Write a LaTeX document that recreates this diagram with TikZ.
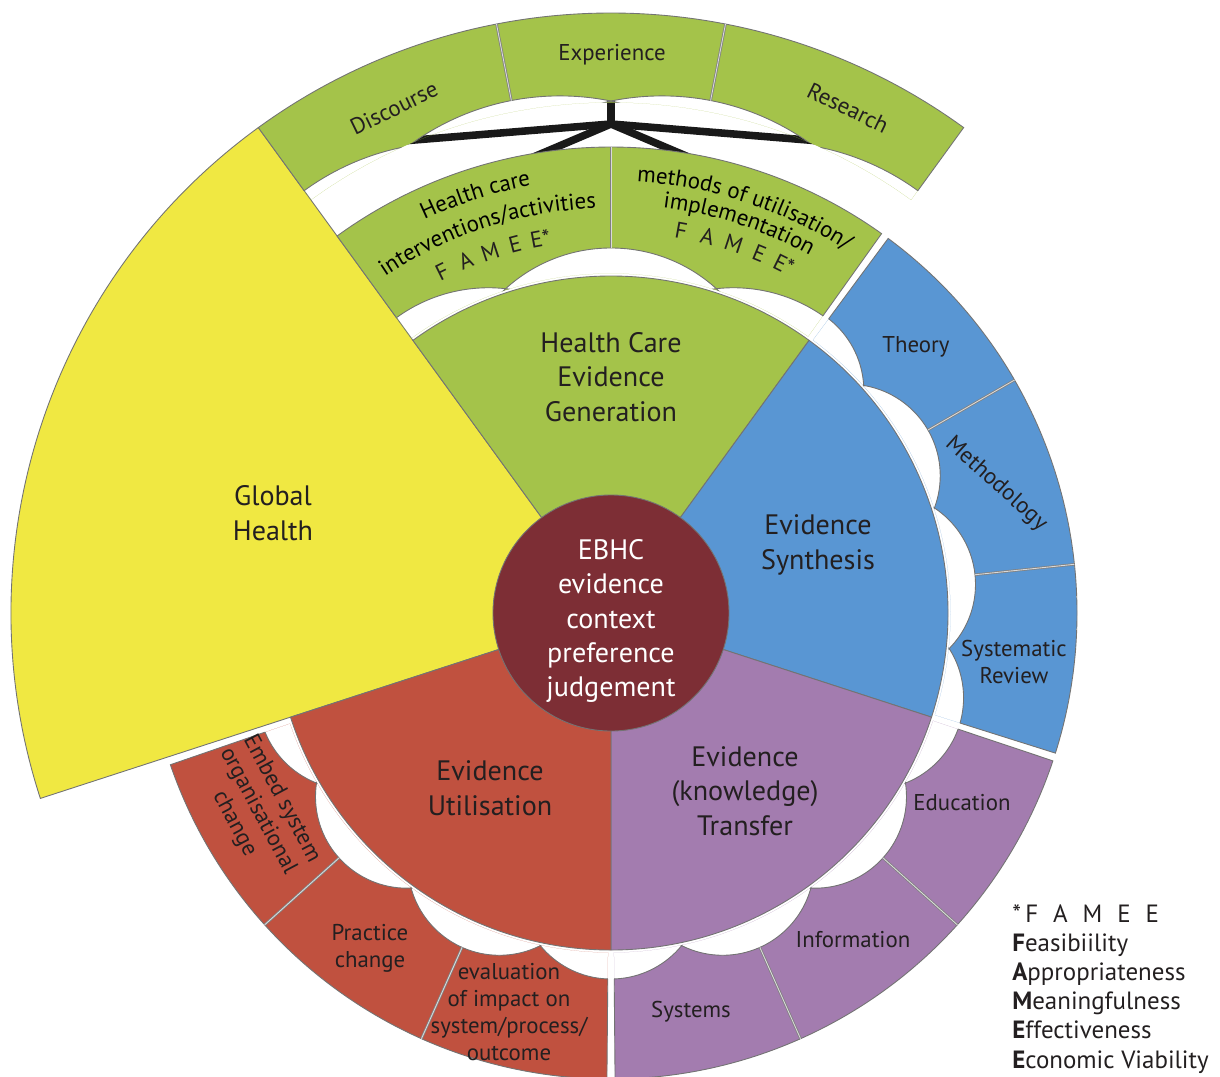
\documentclass[tikz,border=0pt]{standalone}
\usepackage{fontspec}
\setmainfont{PT Sans}
\usetikzlibrary{decorations.text}
\definecolor{globalcol}{HTML}{F0E842}
\definecolor{gencol}{HTML}{A4C34A}
\definecolor{syncol}{HTML}{5996D3}
\definecolor{transcol}{HTML}{A37CAF}
\definecolor{utilcol}{HTML}{C0513F}
\definecolor{corecol}{HTML}{7D2E35}
\definecolor{inkcol}{HTML}{231F20}
\newcommand\biglbl{\fontsize{16}{19.6}\selectfont}
\newcommand\smalllbl{\fontsize{13}{15.2}\selectfont}
\newcommand\keylbl{\fontsize{14.2}{16.7}\selectfont}
\newcommand\wedgering[4]{(#1:#3) arc[start angle=#1,end angle=#2,radius=#3] -- (#2:#4) arc[start angle=#2,end angle=#1,radius=#4] -- cycle}
% colour, from, to, inner, outer, bubble angles, bubble distance, bubble radius
\newcommand\scalloped[8]{%
  \begin{scope}
    \clip \wedgering{#2}{#3}{#4}{#5};
    \fill[#1, even odd rule] \wedgering{#2}{#3}{#4}{#5} \foreach \b in {#6} {(\b:#7) circle[radius=#8]};
    \foreach \b in {#6} \draw[bubble] (\b:#7) circle[radius=#8];
  \end{scope}}
\tikzset{sector/.style={draw=black!55, line width=0.5pt},
  rim/.style={draw=black!55, line width=0.5pt},
  divider/.style={draw=black!50, double=black!15, double distance=0.5pt, line width=0.45pt},
  bubble/.style={draw=black!55, line width=0.5pt},
  link/.style={draw=black!90, line width=4.3pt, line join=round},
  big/.style={align=center, font=\biglbl, text=inkcol},
  small/.style={align=center, font=\smalllbl, text=inkcol},
  keyline/.style={font=\keylbl, text=inkcol, anchor=base west, inner sep=0pt}
}

\begin{document}
\begin{tikzpicture}[x=0.02cm, y=0.02cm]
\useasboundingbox (-611,-463) rectangle (609,613);

\filldraw[sector, fill=globalcol] (0,0) -- (126:600) arc[start angle=126,end angle=198,radius=600] -- cycle;

\coordinate (hub) at (90:489);
\coordinate (expe) at (90:514);
\coordinate (disc) at (113.5:515);
\coordinate (rese) at (66.5:515);
\coordinate (inter) at (100.5:461);
\coordinate (meth) at (79.5:461);
\draw[link] (expe) -- (hub);
\draw[link] (disc) -- (hub) -- (rese);
\draw[link] (inter) -- (hub) -- (meth);

% outer ring above generation
\scalloped{gencol}{54}{126}{510.5}{600}{54,79,101,126}{267.6}{254.4}
\draw[rim] (126:522) -- (126:600) arc[start angle=126,end angle=54,radius=600] -- (54:522);
\foreach \d in {79,101} \draw[divider] (\d:522) -- (\d:600);

% second rings
\scalloped{gencol}{54.5}{126}{339.5}{466}{54,90,126}{208.2}{156.8}
\draw[rim] (126:365) -- (126:466) arc[start angle=126,end angle=54.5,radius=466] -- (54.5:365);
\draw[divider] (90:365) -- (90:466);

\scalloped{syncol}{-17.5}{53.5}{339.5}{466}{-18,6,30,54}{274.5}{91.5}
\draw[rim] (-17.5:366) -- (-17.5:466) arc[start angle=-17.5,end angle=53.5,radius=466] -- (53.5:366);
\foreach \d in {6,30} \draw[divider] (\d:366) -- (\d:466);

\scalloped{transcol}{-89.5}{-18.5}{339.5}{466}{-90,-66,-42,-18}{274.5}{91.5}
\draw[rim] (-89.5:366) -- (-89.5:466) arc[start angle=-89.5,end angle=-18.5,radius=466] -- (-18.5:366);
\foreach \d in {-66,-42} \draw[divider] (\d:366) -- (\d:466);

\scalloped{utilcol}{-161}{-90.5}{339.5}{466}{-162,-138,-114,-90}{274.5}{91.5}
\draw[rim] (-161:366) -- (-161:466) arc[start angle=-161,end angle=-90.5,radius=466] -- (-90.5:366);
\foreach \d in {-138,-114} \draw[divider] (\d:366) -- (\d:466);

% main sectors
\filldraw[sector, fill=gencol] (0,0) -- (54:337) arc[start angle=54,end angle=126,radius=337] -- cycle;
\filldraw[sector, fill=syncol] (0,0) -- (-18:337) arc[start angle=-18,end angle=54,radius=337] -- cycle;
\filldraw[sector, fill=transcol] (0,0) -- (-90:337) arc[start angle=-90,end angle=-18,radius=337] -- cycle;
\filldraw[sector, fill=utilcol] (0,0) -- (-162:337) arc[start angle=-162,end angle=-90,radius=337] -- cycle;
\filldraw[sector, fill=corecol] (0,0) circle[radius=118];

\node[big] (gen) at (0,236) {Health Care\\Evidence\\Generation};
\node[big] (glob) at (-338,100) {Global\\Health};
\node[big] (syn) at (207,68) {Evidence\\Synthesis};
\node[big] (tra) at (134,-178) {Evidence\\(knowledge)\\Transfer};
\node[big] (uti) at (-121,-175) {Evidence\\Utilisation};
\node[big, text=white] (ebhc) at (0,-8) {EBHC\\evidence\\context\\preference\\judgement};

\node[small, rotate=26] (discl) at (-217,505) {Discourse};
\node[small] (expel) at (1,558) {Experience};
\node[small, rotate=-26] (resel) at (237,505) {Research};

\path[decorate, decoration={text along path, text align=center, text={|\smalllbl|Health care}}] (130:435) arc[start angle=130,end angle=86,radius=435];
\path[decorate, decoration={text along path, text align=center, text={|\smalllbl|interventions/activities}}] (131:405) arc[start angle=131,end angle=85,radius=405];
\foreach \ch [count=\i] in {F,A,M,E,E*}
  \node[small, rotate={18.5+(3-\i)*3.9}] (fl\i) at ({108.5+(3-\i)*3.9}:381) {\ch};
\path[decorate, decoration={text along path, text align=center, text={|\smalllbl|methods of utilisation/}}] (95:432) arc[start angle=95,end angle=48.6,radius=432];
\path[decorate, decoration={text along path, text align=center, text={|\smalllbl|implementation}}] (95:409) arc[start angle=95,end angle=48.6,radius=409];
\foreach \ch [count=\i] in {F,A,M,E,E*}
  \node[small, rotate={-18.4+(3-\i)*4}] (fr\i) at ({71.6+(3-\i)*4}:389) {\ch};

\node[small] (theo) at (305,266) {Theory};
\node[small, rotate=-42] (meto) at (385,129) {Methodology};
\node[small] (sysr) at (403,-49) {Systematic\\Review};
\node[small] (educ) at (351,-190) {Education};
\node[small] (info) at (242,-327) {Information};
\node[small] (syst) at (80,-399) {Systems};
\node[small] (eval) at (-102,-399) {evaluation\\of impact on\\system/process/\\outcome};
\node[small] (prac) at (-241,-335) {Practice\\change};
\node[small, rotate=-62] (embe) at (209.3:405) {Embed system\\organisational\\change};

\foreach \w [count=\i] in {{*\,F\hspace{0.6em}A\hspace{0.6em}M\hspace{0.6em}E\hspace{0.6em}E},
  {\textbf{F}easibiility}, {\textbf{A}ppropriateness}, {\textbf{M}eaningfulness},
  {\textbf{E}ffectiveness}, {\textbf{E}conomic Viability}}
  \node[keyline] (key\i) at (401,{-309-(\i-1)*29.2}) {\w};
\end{tikzpicture}
\end{document}
